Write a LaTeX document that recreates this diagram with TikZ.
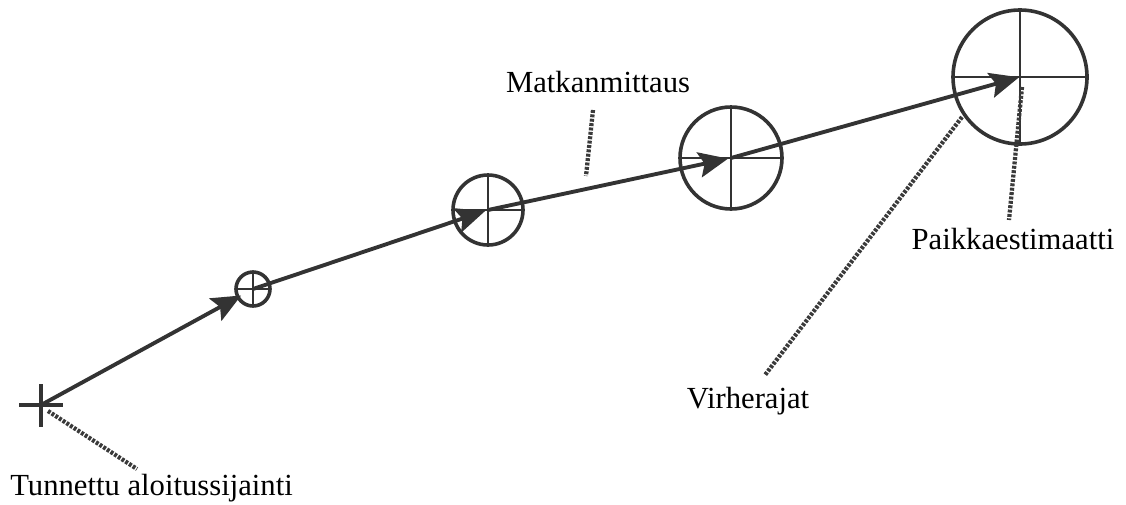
\documentclass[tikz,border=0pt]{standalone}
\usepackage{fontspec}
\setmainfont{Liberation Serif}
\usetikzlibrary{arrows.meta}
\definecolor{ink}{HTML}{333333}
\definecolor{dots}{HTML}{3A3A3A}
\begin{document}
\begin{tikzpicture}[x=0.75pt,y=-0.75pt,
  path/.style={draw=ink,line width=2.9pt,-{Stealth[length=22pt,width=19pt,inset=4pt]}},
  ring/.style={circle,draw=ink,line width=2.7pt,inner sep=0pt,outer sep=0pt},
  crossline/.style={draw=ink,line width=2.2pt},
  leader/.style={draw=dots,line width=3.2pt,dash pattern=on 2.2pt off 1.1pt},
  lbl/.style={font=\fontsize{23}{26}\selectfont,inner sep=0pt}]
\useasboundingbox (0,0) rectangle (1126,504);
% start cross
\coordinate (s) at (41,405);
\draw[crossline,line width=2.5pt] (19,405) -- (63,405) (41,384) -- (41,427);
% circles
\node[ring,minimum size=34*0.75pt] (c1) at (253,289) {};
\node[ring,minimum size=70*0.75pt] (c2) at (488,210) {};
\node[ring,minimum size=102*0.75pt] (c3) at (731,158) {};
\node[ring,minimum size=134*0.75pt] (c4) at (1020,77) {};
\foreach \c in {c1,c2,c3,c4}{
  \draw[crossline] (\c.north) -- (\c.south) (\c.west) -- (\c.east);
}
% path
\draw[path,shorten >=13.5*0.75pt] (s) -- (c1.center);
\draw[path,shorten >=3*0.75pt] (c1.center) -- (c2.center);
\draw[path,shorten >=3*0.75pt] (c2.center) -- (c3.center);
\draw[path,shorten >=1*0.75pt] (c3.center) -- (c4.center);
% labels
\node[lbl,anchor=base west] (t0) at (10,495) {Tunnettu aloitussijainti};
\node[lbl] (tm) at (598,82) {Matkanmittaus};
\node[lbl] (tv) at (748,401) {Virherajat};
\node[lbl] (tp) at (1013,239) {Paikkaestimaatti};
% leaders
\coordinate (l0a) at (48,411); \coordinate (l0b) at (137,469);
\coordinate (lma) at (593,110); \coordinate (lmb) at (586,176);
\coordinate (lva) at (962,117); \coordinate (lvb) at (765,375);
\coordinate (lpa) at (1022,87); \coordinate (lpb) at (1009,220);
\draw[leader] (l0a) -- (l0b);
\draw[leader] (lma) -- (lmb);
\draw[leader] (lva) -- (lvb);
\draw[leader] (lpa) -- (lpb);
\end{tikzpicture}
\end{document}
